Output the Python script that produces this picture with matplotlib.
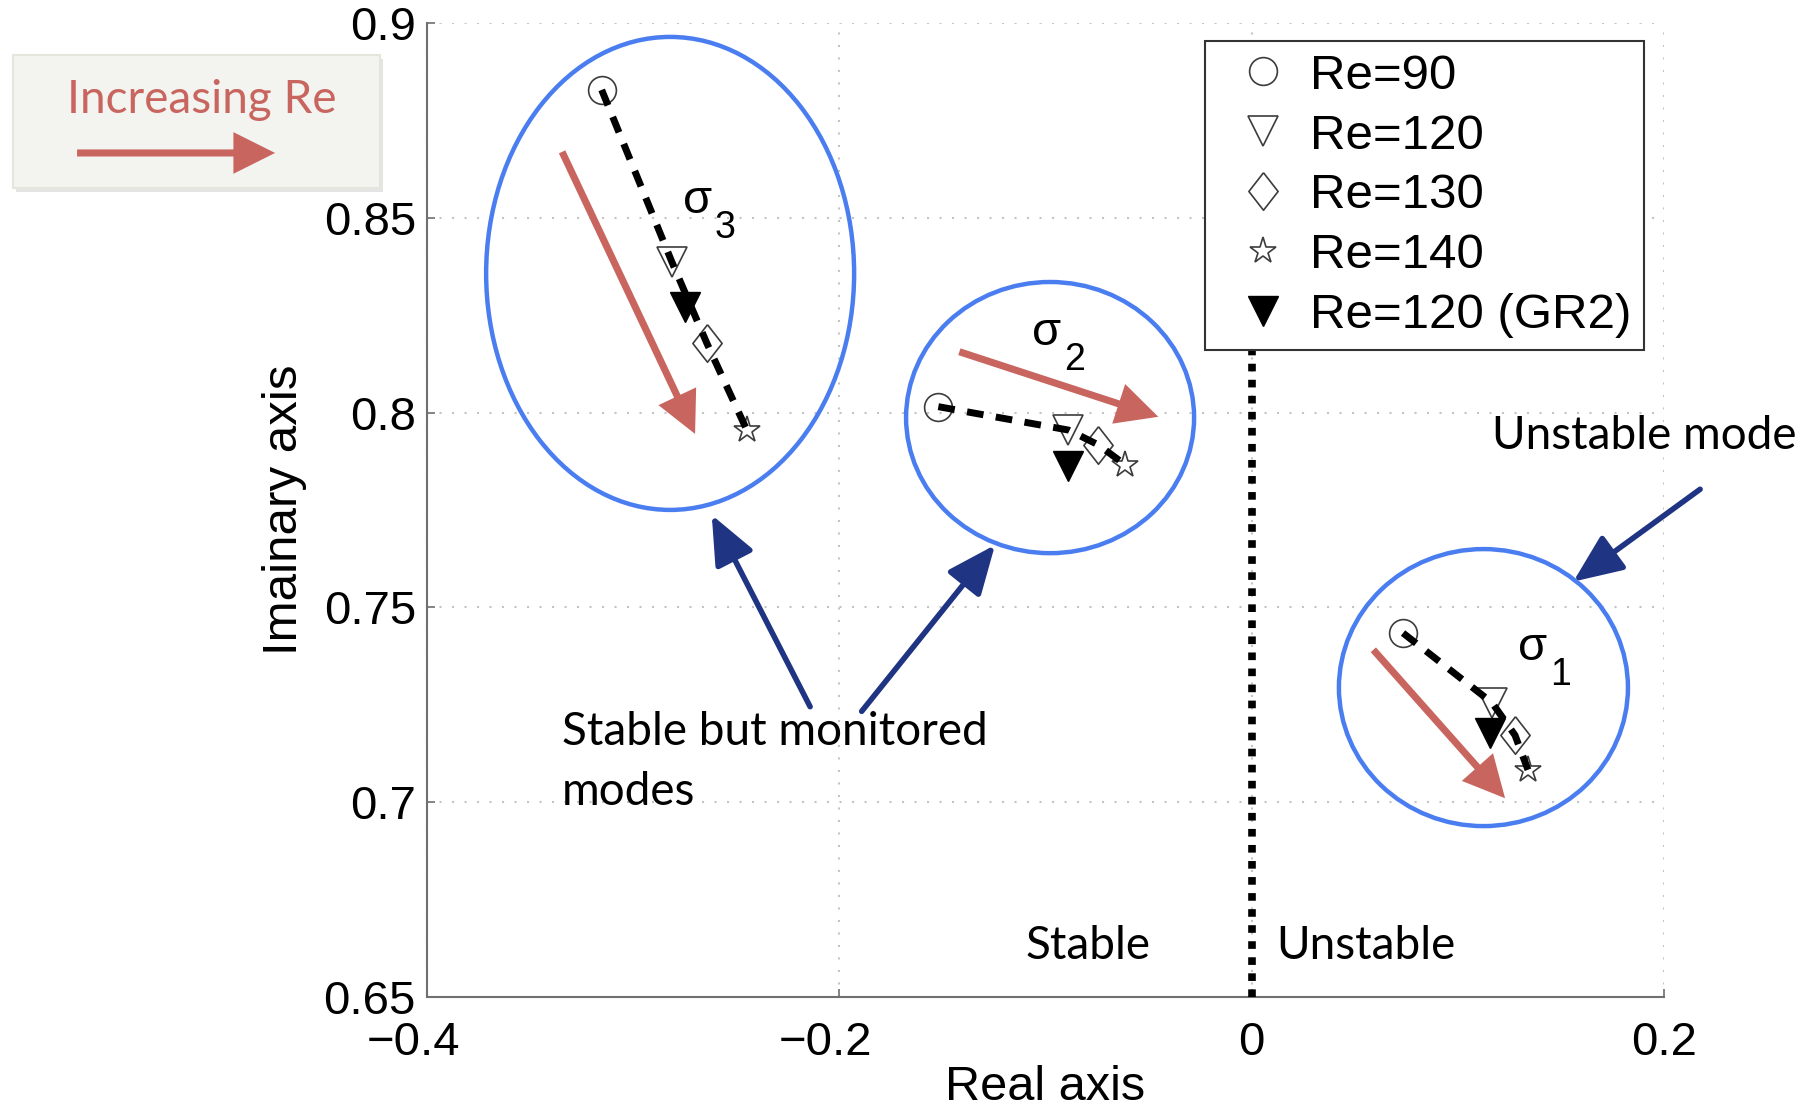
import matplotlib.pyplot as plt
from matplotlib.patches import Ellipse, Rectangle, FancyArrowPatch
from matplotlib.transforms import ScaledTranslation

# eigenvalues of the three tracked modes (sigma_1, sigma_2, sigma_3) at each Reynolds number
re90_real = [0.0734, -0.1520, -0.3153]
re90_imag = [0.7434, 0.8015, 0.8828]
re120_real = [0.1166, -0.0889, -0.2813]
re120_imag = [0.7255, 0.7955, 0.8387]
re130_real = [0.1277, -0.0744, -0.2643]
re130_imag = [0.7172, 0.7917, 0.8178]
re140_real = [0.1340, -0.0614, -0.2449]
re140_imag = [0.7083, 0.7866, 0.7955]
gr2_real = [0.1156, -0.0889, -0.2749]
gr2_imag = [0.7178, 0.7862, 0.8272]

series_labels = ["Re=90", "Re=120", "Re=130", "Re=140", "Re=120 (GR2)"]
mode_names = ["1", "2", "3"]

xticks = [-0.4, -0.2, 0, 0.2]
xticklabels = ["\u22120.4", "\u22120.2", "0", "0.2"]
yticks = [0.65, 0.7, 0.75, 0.8, 0.85, 0.9]
yticklabels = ["0.65", "0.7", "0.75", "0.8", "0.85", "0.9"]

RED = "#c9655f"
BLUE = "#4a7ef0"
NAVY = "#1f3482"
EDGE = "#3c3c3c"
SANS = "Liberation Sans"
CALLOUT = "Lato"

DIAMOND = [(0, 1), (0.78, 0), (0, -1), (-0.78, 0), (0, 1)]
RED_STYLE = "simple,head_length=1.0,head_width=1.0,tail_width=0.17"


def red_arrow(ax, start, end):
    ax.annotate("", xy=end, xytext=start, annotation_clip=False,
                arrowprops=dict(arrowstyle=RED_STYLE, mutation_scale=30, fc=RED,
                                ec="none", shrinkA=0, shrinkB=0))


def navy_arrow(ax, start, end):
    ax.annotate("", xy=end, xytext=start, annotation_clip=False,
                arrowprops=dict(arrowstyle="-|>,head_length=0.75,head_width=0.32",
                                mutation_scale=40, color=NAVY, lw=4,
                                shrinkA=0, shrinkB=0))


def sigma_label(ax, x, y, k):
    ax.annotate("\u03c3", (x, y), ha="left", va="baseline", fontsize=34, family=SANS)
    ax.annotate(k, (x, y), xytext=(23, -18), textcoords="offset points",
                ha="left", va="baseline", fontsize=27, family=SANS)


def run():
    fig = plt.figure(figsize=(18.05, 11.06), dpi=100)
    ax = fig.add_axes([0.2366, 0.0986, 0.6853, 0.8807])

    # dashed path of each mode as Re increases
    for i in range(3):
        xs = [re90_real[i], re120_real[i], re130_real[i], re140_real[i]]
        ys = [re90_imag[i], re120_imag[i], re130_imag[i], re140_imag[i]]
        ax.plot(xs, ys, color="black", lw=5, dashes=(2.4, 1.8),
                dash_capstyle="butt", zorder=4)

    common = dict(ls="none", mec=EDGE, mew=1.2, zorder=3)
    ax.plot(re90_real, re90_imag, marker="o", ms=20, mfc="none", label=series_labels[0], **common)
    ax.plot(re120_real, re120_imag, marker="v", ms=22, mfc="none", label=series_labels[1], **common)
    ax.plot(re130_real, re130_imag, marker=DIAMOND, ms=27, mfc="none", label=series_labels[2], **common)
    ax.plot(re140_real, re140_imag, marker="*", ms=20, mfc="none", label=series_labels[3], **common)
    ax.plot(gr2_real, gr2_imag, marker="v", ms=22, mfc="black", mec="black",
            ls="none", label=series_labels[4], zorder=3)

    # stability boundary
    ax.plot([0, 0], [0.65, 0.818], color="black", lw=5.5, dashes=(1, 1.1),
            dash_capstyle="butt", zorder=5)

    ax.set_xlim(-0.4, 0.2)
    ax.set_ylim(0.65, 0.9)
    ax.set_xticks(xticks)
    ax.set_xticklabels(xticklabels, family=SANS)
    ax.set_yticks(yticks)
    ax.set_yticklabels(yticklabels, family=SANS)
    ax.tick_params(direction="in", length=6, width=1.2, color="#707070", labelsize=34)
    ax.tick_params(axis="x", pad=17)
    ax.tick_params(axis="y", pad=8)
    # keep the digits centred on the tick, with the minus sign hanging to the left
    shift = ScaledTranslation(-0.138, 0, fig.dpi_scale_trans)
    for lab in ax.get_xticklabels():
        if lab.get_text().startswith("\u2212"):
            lab.set_transform(lab.get_transform() + shift)
    ax.grid(True, color="#c4c4c4", linestyle=(0, (1, 5)), lw=1.5)
    ax.set_axisbelow(True)
    for side in ["top", "right"]:
        ax.spines[side].set_visible(False)
    for side in ["left", "bottom"]:
        ax.spines[side].set_color("#707070")
        ax.spines[side].set_linewidth(1.5)
    ax.set_xlabel("Real axis", fontsize=35, family=SANS, labelpad=0)
    ax.set_ylabel("Imainary axis", fontsize=35.5, family=SANS, labelpad=12)

    leg = ax.legend(loc="upper left", bbox_to_anchor=(0.629, 0.981), borderaxespad=0,
                    prop={"family": SANS, "size": 35.5}, borderpad=0.25, labelspacing=0.3,
                    handlelength=1.83, handletextpad=0.05, fancybox=False,
                    framealpha=1, edgecolor="#333333")
    leg.get_frame().set_linewidth(1.5)
    leg.set_zorder(6)

    # mode groups
    ax.add_patch(Ellipse((-0.2821, 0.8357), 0.1785, 0.1214, fill=False, ec=BLUE, lw=3.2, zorder=2))
    ax.add_patch(Ellipse((-0.0978, 0.7987), 0.1397, 0.0696, fill=False, ec=BLUE, lw=3.2, zorder=2))
    ax.add_patch(Ellipse((0.1124, 0.7294), 0.1402, 0.0711, fill=False, ec=BLUE, lw=3.2, zorder=2))

    sigma_label(ax, -0.2758, 0.8512, mode_names[2])
    sigma_label(ax, -0.1067, 0.8174, mode_names[1])
    sigma_label(ax, 0.1292, 0.7365, mode_names[0])

    # direction of increasing Re in each group
    red_arrow(ax, (-0.3345, 0.8669), (-0.2700, 0.7945))
    red_arrow(ax, (-0.1418, 0.8156), (-0.0453, 0.7989))
    red_arrow(ax, (0.0590, 0.7391), (0.1229, 0.7010))

    navy_arrow(ax, (-0.2142, 0.7245), (-0.2619, 0.7737))
    navy_arrow(ax, (-0.1892, 0.7233), (-0.1245, 0.7660))
    navy_arrow(ax, (0.2175, 0.7803), (0.1560, 0.7566))

    ax.text(-0.3347, 0.7147, "Stable but monitored", fontsize=33, family=CALLOUT,
            ha="left", va="baseline")
    ax.text(-0.3347, 0.6993, "modes", fontsize=33, family=CALLOUT,
            ha="left", va="baseline")
    ax.text(0.1164, 0.7907, "Unstable mode", fontsize=33, family=CALLOUT,
            ha="left", va="baseline", clip_on=False)
    ax.text(-0.1095, 0.6598, "Stable", fontsize=33, family=CALLOUT, ha="left", va="baseline")
    ax.text(0.0117, 0.6598, "Unstable", fontsize=33, family=CALLOUT, ha="left", va="baseline")

    # "Increasing Re" key box
    shadow = Rectangle((0.0090, 0.8265), 0.2033, 0.1203, transform=fig.transFigure,
                       fc="#dedede", ec="none", alpha=0.8, zorder=-2)
    box = Rectangle((0.0072, 0.8300), 0.2033, 0.1203, transform=fig.transFigure,
                    fc="#f3f3f0", ec="#e3e6da", lw=1.5, zorder=-1)
    fig.add_artist(shadow)
    fig.add_artist(box)
    fig.text(0.1116, 0.8978, "Increasing Re", fontsize=33, family=CALLOUT,
             color=RED, ha="center", va="baseline")
    key_arrow = FancyArrowPatch((0.0427, 0.8617), (0.1524, 0.8617), transform=fig.transFigure,
                                arrowstyle=RED_STYLE, mutation_scale=30, fc=RED, ec="none",
                                shrinkA=0, shrinkB=0, zorder=3)
    fig.add_artist(key_arrow)

    fig.savefig("out.png", dpi=100)


if __name__ == "__main__":
    run()
